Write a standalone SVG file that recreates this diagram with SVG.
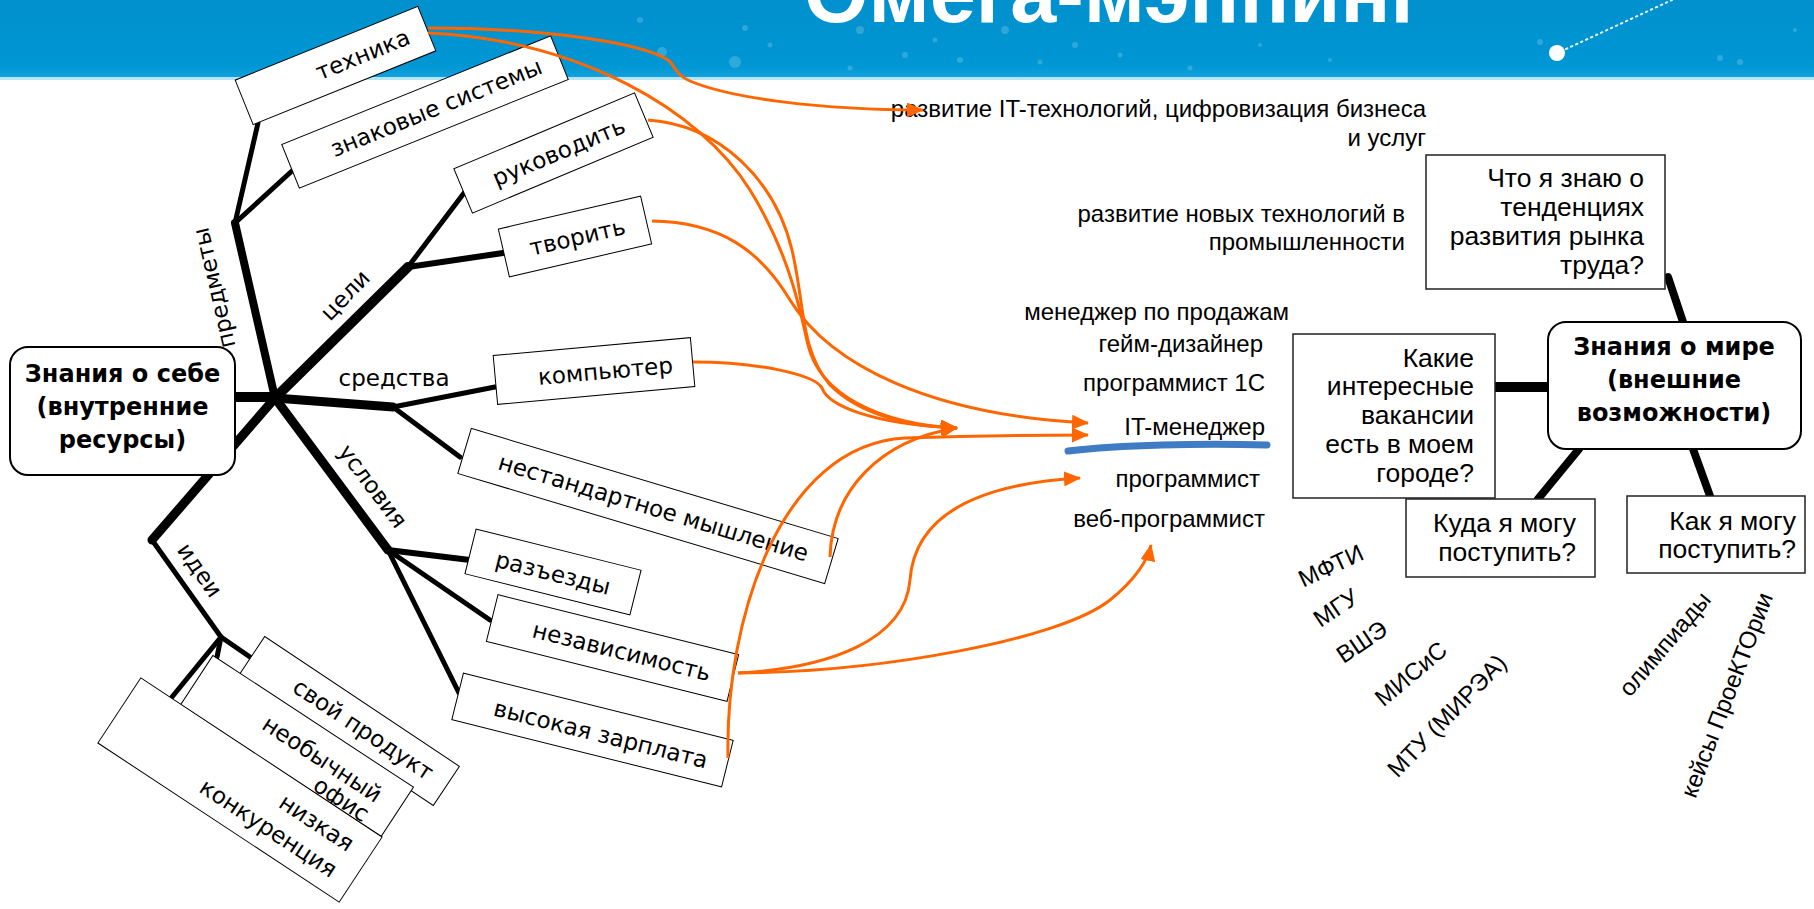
<svg xmlns="http://www.w3.org/2000/svg" width="1814" height="909" viewBox="0 0 1814 909">
<defs>
<style>
.rb{fill:#fff;stroke:#000;stroke-width:1}
.qb{fill:#fff;stroke:#222;stroke-width:1.5}
.mb{fill:#fff;stroke:#000;stroke-width:2}
.lbl{font-family:"DejaVu Sans",Verdana,sans-serif;font-size:23px;fill:#000}
.bt{font-family:"DejaVu Sans",Verdana,sans-serif;font-size:23px;fill:#000;text-anchor:end}
.mt{font-family:"DejaVu Sans",Verdana,sans-serif;font-size:24px;font-weight:bold;fill:#000;text-anchor:middle}
.ar{font-family:"Liberation Sans",Arial,sans-serif;font-size:24px;fill:#000}
.ae{font-family:"Liberation Sans",Arial,sans-serif;font-size:24px;fill:#000;text-anchor:end}
.qt{font-family:"Liberation Sans",Arial,sans-serif;font-size:26.5px;fill:#000;text-anchor:end}
.rt{font-family:"Liberation Sans",Arial,sans-serif;font-size:24px;fill:#000;text-anchor:middle}
.tl{stroke:#000;fill:none;stroke-linecap:round}
.or{fill:none;stroke:#ff6600;stroke-width:3;marker-end:url(#ah)}
.dot{fill:#fff;opacity:0.18}
</style>
<linearGradient id="hdr" x1="0" y1="0" x2="0" y2="1">
<stop offset="0" stop-color="#0090cd"/>
<stop offset="0.85" stop-color="#0097d4"/>
<stop offset="1" stop-color="#14a2dd"/>
</linearGradient>
<marker id="ah" viewBox="0 0 17 15" refX="16" refY="7.5" markerWidth="17" markerHeight="15" markerUnits="userSpaceOnUse" orient="auto">
<path d="M0,0 L17,7.5 L0,15 z" fill="#ff6600"/>
</marker>
</defs>

<g id="header">
<rect x="0" y="0" width="1814" height="78" fill="url(#hdr)"/>
<rect x="0" y="77" width="1814" height="3" fill="#b5e6f7"/>
<circle class="dot" cx="640" cy="20" r="3"/>
<circle class="dot" cx="662" cy="52" r="5"/>
<circle class="dot" cx="735" cy="62" r="6"/>
<circle class="dot" cx="745" cy="28" r="3"/>
<circle class="dot" cx="770" cy="45" r="2.5"/>
<circle class="dot" cx="850" cy="68" r="2.5"/>
<circle class="dot" cx="860" cy="30" r="4"/>
<circle class="dot" cx="905" cy="55" r="3"/>
<circle class="dot" cx="935" cy="40" r="2.5"/>
<circle class="dot" cx="960" cy="60" r="3"/>
<circle class="dot" cx="1005" cy="30" r="4"/>
<circle class="dot" cx="1040" cy="62" r="2.5"/>
<circle class="dot" cx="1075" cy="45" r="3"/>
<circle class="dot" cx="1120" cy="55" r="2.5"/>
<circle class="dot" cx="1190" cy="68" r="2.5"/>
<circle class="dot" cx="1260" cy="45" r="2"/>
<circle class="dot" cx="1330" cy="60" r="2"/>
<circle class="dot" cx="1540" cy="42" r="3"/>
<circle class="dot" cx="1720" cy="58" r="3"/>
<circle class="dot" cx="1740" cy="62" r="3"/>
<circle class="dot" cx="1795" cy="30" r="2"/>
<line x1="1566" y1="49" x2="1672" y2="0" stroke="#fff" stroke-width="2" stroke-dasharray="1.5 4" stroke-linecap="round" opacity="0.9"/>
<circle cx="1557" cy="53" r="8" fill="#fff"/>
<text x="804" y="22" font-family="Liberation Sans, Arial, sans-serif" font-size="83" font-weight="bold" fill="#fff" textLength="621" lengthAdjust="spacingAndGlyphs">Омега-мэппинг</text>
</g>

<g id="connectors-tree">
<line class="tl" x1="235" y1="397" x2="275" y2="397" stroke-width="10"/>
<line class="tl" x1="275" y1="398" x2="235" y2="223" stroke-width="8"/>
<line class="tl" x1="235" y1="223" x2="258" y2="123" stroke-width="5"/>
<line class="tl" x1="235" y1="223" x2="293" y2="170" stroke-width="5"/>
<line class="tl" x1="275" y1="398" x2="408" y2="267" stroke-width="10"/>
<line class="tl" x1="408" y1="267" x2="464" y2="193" stroke-width="5"/>
<line class="tl" x1="408" y1="267" x2="503" y2="253" stroke-width="6"/>
<line class="tl" x1="275" y1="398" x2="393" y2="407" stroke-width="9"/>
<line class="tl" x1="393" y1="407" x2="495" y2="387" stroke-width="5"/>
<line class="tl" x1="393" y1="407" x2="460" y2="457" stroke-width="5"/>
<line class="tl" x1="275" y1="398" x2="388" y2="550" stroke-width="9"/>
<line class="tl" x1="388" y1="550" x2="470" y2="560" stroke-width="6"/>
<line class="tl" x1="388" y1="550" x2="490" y2="620" stroke-width="5"/>
<line class="tl" x1="388" y1="550" x2="459" y2="693" stroke-width="5"/>
<line class="tl" x1="275" y1="398" x2="152" y2="540" stroke-width="9"/>
<line class="tl" x1="152" y1="540" x2="221" y2="637" stroke-width="5"/>
<line class="tl" x1="221" y1="637" x2="250" y2="657" stroke-width="5"/>
<line class="tl" x1="221" y1="637" x2="217" y2="657" stroke-width="5"/>
<line class="tl" x1="221" y1="637" x2="172" y2="697" stroke-width="5"/>
<line class="tl" x1="1668" y1="277" x2="1683" y2="322" stroke-width="8"/>
<line class="tl" x1="1495" y1="387" x2="1548" y2="387" stroke-width="10"/>
<line class="tl" x1="1579" y1="449" x2="1538" y2="499" stroke-width="8"/>
<line class="tl" x1="1693" y1="449" x2="1710" y2="496" stroke-width="8"/>
</g>

<g id="labels">
<text class="lbl" text-anchor="middle" transform="translate(214,288) rotate(-103)" y="8">предметы</text>
<text class="lbl" text-anchor="middle" transform="translate(345,295) rotate(-46)" y="8">цели</text>
<text class="lbl" text-anchor="middle" x="394" y="386">средства</text>
<text class="lbl" text-anchor="middle" transform="translate(373,486) rotate(53)" y="8">условия</text>
<text class="lbl" text-anchor="middle" transform="translate(200,570) rotate(55)" y="8">идеи</text>
</g>

<g id="n-self">
<rect class="mb" x="10" y="347" width="225" height="128" rx="18"/>
<text class="mt" x="122.5" y="382">Знания о себе</text>
<text class="mt" x="122.5" y="415">(внутренние</text>
<text class="mt" x="122.5" y="448">ресурсы)</text>
</g>

<g id="n-tehnika" transform="translate(335.5,65.5) rotate(-22)">
<rect class="rb" x="-98.5" y="-24" width="197" height="48"/>
<text class="bt" x="79" y="8">техника</text>
</g>
<g id="n-znak" transform="translate(425,112) rotate(-22)">
<rect class="rb" x="-145" y="-23.5" width="290" height="47"/>
<text class="bt" x="125" y="8">знаковые системы</text>
</g>
<g id="n-ruk" transform="translate(553.5,153) rotate(-22.8)">
<rect class="rb" x="-98" y="-24" width="196" height="48"/>
<text class="bt" x="76" y="9">руководить</text>
</g>
<g id="n-tvor" transform="translate(575,236.5) rotate(-13)">
<rect class="rb" x="-73" y="-24.5" width="146" height="49"/>
<text class="bt" x="51" y="9">творить</text>
</g>
<g id="n-komp" transform="translate(594,371) rotate(-5.2)">
<rect class="rb" x="-99" y="-24.5" width="198" height="49"/>
<text class="bt" x="79" y="9">компьютер</text>
</g>
<g id="n-nestd" transform="translate(648,506) rotate(16.7)">
<rect class="rb" x="-191.5" y="-23.5" width="383" height="47"/>
<text class="bt" x="167" y="8">нестандартное мышление</text>
</g>
<g id="n-razezd" transform="translate(553,572) rotate(14)">
<rect class="rb" x="-85" y="-23" width="170" height="46"/>
<text class="bt" x="59" y="9">разъезды</text>
</g>
<g id="n-nezav" transform="translate(612.5,648) rotate(14)">
<rect class="rb" x="-124" y="-24" width="248" height="48"/>
<text class="bt" x="101" y="9">независимость</text>
</g>
<g id="n-zarpl" transform="translate(592.5,730) rotate(14)">
<rect class="rb" x="-139" y="-24" width="278" height="48"/>
<text class="bt" x="119" y="10">высокая зарплата</text>
</g>
<g id="n-svoy" transform="translate(349,721) rotate(33.7)">
<rect class="rb" x="-117" y="-23.5" width="234" height="47"/>
<text class="bt" x="98" y="7">свой продукт</text>
</g>
<g id="n-ofis" transform="translate(297,746) rotate(33.3)">
<rect class="rb" x="-120" y="-29.5" width="240" height="59"/>
<text class="bt" x="97" y="5">необычный</text>
<text class="bt" x="97" y="28">офис</text>
</g>
<g id="n-nizk" transform="translate(240,790) rotate(33.4)">
<rect class="rb" x="-144.5" y="-39" width="289" height="78"/>
<text class="bt" x="124" y="-7">низкая</text>
<text class="bt" x="124" y="24">конкуренция</text>
</g>

<g id="trends">
<text class="ae" x="1426" y="117">развитие IT-технологий, цифровизация бизнеса</text>
<text class="ae" x="1426" y="146">и услуг</text>
<text class="ae" x="1405" y="222">развитие новых технологий в</text>
<text class="ae" x="1405" y="250">промышленности</text>
</g>

<g id="jobs">
<text class="ae" x="1289" y="320">менеджер по продажам</text>
<text class="ae" x="1263" y="352">гейм-дизайнер</text>
<text class="ae" x="1265" y="391">программист 1С</text>
<text class="ae" x="1265" y="435">IT-менеджер</text>
<text class="ae" x="1260" y="487">программист</text>
<text class="ae" x="1265" y="527">веб-программист</text>
<path d="M1068,451 C1120,445 1200,443 1267,445" fill="none" stroke="#3f7cc4" stroke-width="7" stroke-linecap="round"/>
</g>

<g id="n-world">
<rect class="mb" x="1548" y="322" width="253" height="127" rx="18"/>
<text class="mt" x="1674" y="355">Знания о мире</text>
<text class="mt" x="1674" y="388">(внешние</text>
<text class="mt" x="1674" y="421">возможности)</text>
</g>
<g id="n-q-trend">
<rect class="qb" x="1426" y="155" width="239" height="134"/>
<text class="qt" x="1644" y="187">Что я знаю о</text>
<text class="qt" x="1644" y="216">тенденциях</text>
<text class="qt" x="1644" y="245">развития рынка</text>
<text class="qt" x="1644" y="274">труда?</text>
</g>
<g id="n-q-vac">
<rect class="qb" x="1293" y="334" width="202" height="164"/>
<text class="qt" x="1474" y="367">Какие</text>
<text class="qt" x="1474" y="395">интересные</text>
<text class="qt" x="1474" y="424">вакансии</text>
<text class="qt" x="1474" y="453">есть в моем</text>
<text class="qt" x="1474" y="482">городе?</text>
</g>
<g id="n-q-where">
<rect class="qb" x="1406" y="499" width="189" height="78"/>
<text class="qt" x="1576" y="532">Куда я могу</text>
<text class="qt" x="1576" y="561">поступить?</text>
</g>
<g id="n-q-how">
<rect class="qb" x="1627" y="496" width="178" height="77"/>
<text class="qt" x="1796" y="530">Как я могу</text>
<text class="qt" x="1796" y="558">поступить?</text>
</g>

<g id="universities">
<text class="rt" transform="translate(1331,566) rotate(-25)" y="8">МФТИ</text>
<text class="rt" transform="translate(1336,608) rotate(-34)" y="8">МГУ</text>
<text class="rt" transform="translate(1362,642) rotate(-34)" y="8">ВШЭ</text>
<text class="rt" transform="translate(1411,674) rotate(-40)" y="8">МИСиС</text>
<text class="rt" transform="translate(1447,716) rotate(-46)" y="8">МТУ (МИРЭА)</text>
</g>
<g id="ways">
<text class="rt" transform="translate(1665,644) rotate(-50)" y="8">олимпиады</text>
<text class="rt" transform="translate(1727,695) rotate(-69)" y="8">кейсы ПроеКТОрии</text>
</g>

<g id="connectors-arrows">
<path class="or" d="M428,28 C540,28 640,42 668,60 C676,66 674,74 690,81 C730,98 820,110 923,110"/>
<path class="or" d="M428,33 C580,40 700,110 750,190 C790,255 800,310 808,345 C820,395 880,424 957,428"/>
<path class="or" d="M648,120 C720,125 775,180 792,250 C805,305 800,350 830,385 C860,415 910,427 957,428"/>
<path class="or" d="M652,221 C720,222 760,250 790,300 C830,365 930,415 1088,423"/>
<path class="or" d="M693,362 C760,362 815,375 822,388 C828,405 870,424 957,428"/>
<path class="or" d="M830,557 C832,490 880,440 957,428"/>
<path class="or" d="M728,758 C725,620 780,445 905,438 C960,436 1020,435 1088,435"/>
<path class="or" d="M738,673 C830,668 905,640 910,580 C914,525 960,485 1080,478"/>
<path class="or" d="M738,673 C880,672 1060,640 1110,600 C1135,580 1148,560 1151,545"/>
</g>
</svg>
